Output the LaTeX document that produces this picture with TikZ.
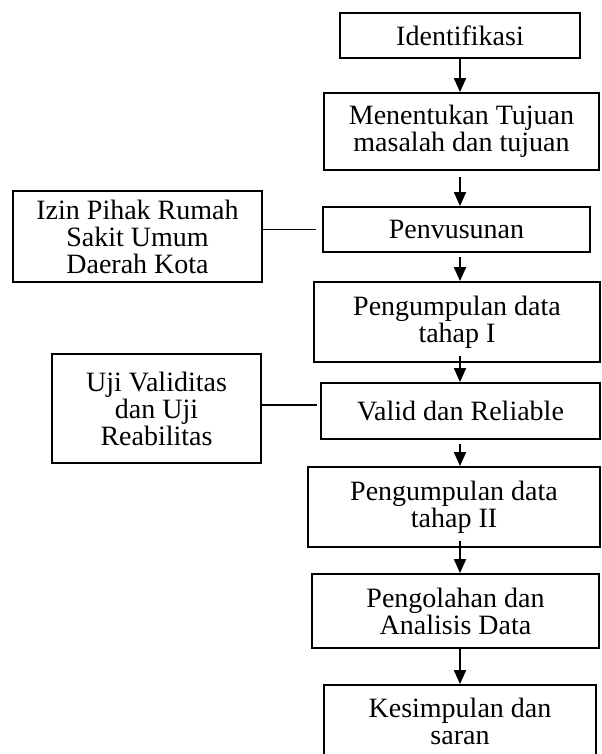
\documentclass[tikz,border=0pt]{standalone}
\usepackage{fontspec}
\setmainfont{Liberation Serif}
\usetikzlibrary{arrows.meta}
\tikzset{
  box/.style={draw, line width=0.9pt, inner sep=0pt, align=center, font=\fontsize{14}{13.5}\selectfont},
  arr/.style={line width=0.9pt, -{Triangle[width=6pt,length=7pt]}},
  link/.style={line width=0.9pt}
}
\begin{document}
\begin{tikzpicture}[x=0.5pt,y=-0.5pt]
\useasboundingbox (0,0) rectangle (601,754);
\coordinate (spine) at (460,0);
\node[box, minimum width=120pt, minimum height=22.5pt] (id) at (460,35.5) {Identifikasi};
\node[box, minimum width=137.5pt, minimum height=38.5pt] (men) at (461.5,131.5) {Menentukan Tujuan\\masalah dan tujuan};
\node[box, minimum width=124.5pt, minimum height=45.5pt] (izin) at (137.5,236.5) {Izin Pihak Rumah\\Sakit Umum\\Daerah Kota};
\node[box, minimum width=133.5pt, minimum height=22.5pt] (pen) at (456.5,229.5) {Penvusunan};
\node[box, minimum width=143pt, minimum height=40pt] (p1) at (457,322) {Pengumpulan data\\tahap I};
\node[box, minimum width=104.5pt, minimum height=54.5pt] (uji) at (156.5,408.5) {Uji Validitas\\dan Uji\\Reabilitas};
\node[box, minimum width=139.5pt, minimum height=28pt] (val) at (460.5,411) {Valid dan Reliable};
\node[box, minimum width=146pt, minimum height=40pt] (p2) at (454,507) {Pengumpulan data\\tahap II};
\node[box, minimum width=143.5pt, minimum height=37pt] (olah) at (455.5,611) {Pengolahan dan\\Analisis Data};
\node[box, minimum width=136pt, minimum height=36.5pt] (kes) at (460,721.5) {Kesimpulan dan\\saran};

\draw[arr] (spine |- id.south) -- (spine |- men.north);
\draw[arr] ([yshift=-3pt]spine |- men.south) -- (spine |- pen.north);
\draw[arr] ([yshift=-2pt]spine |- pen.south) -- (spine |- p1.north);
\draw[arr] ([yshift=3.5pt]spine |- p1.south) -- (spine |- val.north);
\draw[arr] ([yshift=-2pt]spine |- val.south) -- (spine |- p2.north);
\draw[arr] ([yshift=3.5pt]spine |- p2.south) -- (spine |- olah.north);
\draw[arr] (spine |- olah.south) -- (spine |- kes.north);

\draw[link] (izin.east |- pen.west) -- ([xshift=-3pt]pen.west);
\draw[link] (uji.east |- 0,405) -- ([xshift=-1.5pt]val.west |- 0,405);
\end{tikzpicture}
\end{document}
